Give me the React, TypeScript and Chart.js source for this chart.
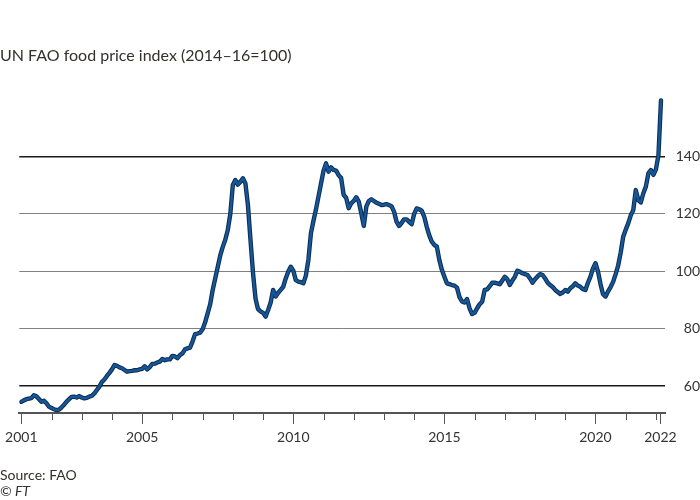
import React, { useEffect, useRef } from "react";
import { Chart, registerables } from "chart.js";

Chart.register(...registerables);

const TITLE = "UN FAO food price index (2014–16=100)";
const SOURCE = "Source: FAO";
const COPYRIGHT = "© FT";

// Monthly index values, Jan..Dec of each year (2014-16 = 100)
const startYear = 2001;
const y2001 = [54.5, 55.0, 55.4, 55.6, 55.8, 56.8, 56.4, 55.5, 54.5, 54.9, 54.0, 52.8];
const y2002 = [52.3, 51.9, 51.6, 51.8, 52.6, 53.5, 54.6, 55.4, 56.2, 56.3, 56.0, 56.5];
const y2003 = [56.0, 55.7, 55.9, 56.3, 56.6, 57.4, 58.6, 59.8, 61.4, 62.3, 63.5, 64.6];
const y2004 = [65.8, 67.3, 67.0, 66.5, 66.2, 65.6, 65.0, 65.2, 65.3, 65.5, 65.5, 65.8];
const y2005 = [66.0, 66.9, 65.8, 66.6, 67.7, 67.8, 68.2, 68.5, 69.4, 69.0, 69.3, 69.3];
const y2006 = [70.5, 70.3, 69.7, 70.8, 71.4, 72.8, 73.1, 73.4, 75.5, 78.1, 78.3, 78.6];
const y2007 = [79.8, 82.2, 85.3, 88.5, 93.5, 97.5, 101.5, 105.5, 108.5, 111.0, 114.4, 120.0];
const y2008 = [130.1, 131.8, 130.2, 131.2, 132.4, 130.6, 123.0, 111.0, 99.5, 90.5, 86.8, 86.0];
const y2009 = [85.5, 84.2, 86.5, 89.0, 93.5, 91.2, 92.5, 93.5, 94.6, 97.5, 99.8, 101.6];
const y2010 = [100.2, 96.9, 96.4, 96.2, 95.8, 98.5, 104.0, 113.2, 117.5, 121.5, 126.0, 130.5];
const y2011 = [135.0, 137.6, 134.7, 136.2, 135.3, 135.1, 133.5, 132.5, 126.6, 125.6, 122.0, 123.7];
const y2012 = [124.5, 125.8, 124.3, 120.2, 115.8, 122.5, 124.5, 125.1, 124.5, 123.9, 123.5, 123.1];
const y2013 = [123.2, 123.4, 123.1, 122.7, 120.8, 117.3, 115.8, 116.8, 118.1, 118.1, 117.2, 116.4];
const y2014 = [120.0, 121.9, 121.6, 121.1, 119.0, 115.5, 112.5, 110.3, 109.2, 108.6, 103.9, 100.5];
const y2015 = [98.1, 95.8, 95.5, 95.2, 95.0, 94.3, 91.0, 89.5, 89.1, 90.3, 87.1, 85.1];
const y2016 = [85.5, 87.1, 88.5, 89.4, 93.5, 93.7, 94.8, 96.0, 96.0, 95.8, 95.5, 96.8];
const y2017 = [98.1, 97.2, 95.2, 96.8, 98.1, 100.2, 99.8, 99.3, 99.0, 98.7, 97.5, 96.0];
const y2018 = [97.2, 98.2, 99.0, 98.7, 97.5, 96.0, 95.2, 94.5, 93.5, 92.8, 92.1, 92.6];
const y2019 = [93.5, 92.9, 94.1, 94.8, 95.8, 95.0, 94.6, 93.8, 93.5, 96.0, 98.1, 101.0];
const y2020 = [102.8, 99.9, 95.5, 92.0, 91.2, 93.0, 94.5, 96.3, 99.0, 102.0, 106.5, 112.0];
const y2021 = [114.5, 116.7, 119.5, 121.3, 128.3, 124.8, 124.0, 127.2, 129.5, 134.1, 135.3, 133.6];
const y2022 = [135.5, 140.5, 159.5];

const yearlySeries = [
  y2001, y2002, y2003, y2004, y2005, y2006, y2007, y2008, y2009, y2010, y2011,
  y2012, y2013, y2014, y2015, y2016, y2017, y2018, y2019, y2020, y2021, y2022,
];

const yTicks = [60, 80, 100, 120, 140];
const darkGridValues = [60, 140];
const xLabelTicks = [2001, 2005, 2010, 2015, 2020, 2022.15];
const xLabelTexts = ["2001", "2005", "2010", "2015", "2020", "2022"];
const minorTickYears = [
  2002, 2003, 2004, 2006, 2007, 2008, 2009, 2011, 2012, 2013, 2014,
  2016, 2017, 2018, 2019, 2021, 2022,
];

const FONT = "Lato, 'Open Sans', sans-serif";

const minorTicksPlugin = {
  id: "minorTicks",
  afterDraw(chart: any) {
    const { ctx, chartArea, scales } = chart;
    const xs = scales.x;
    ctx.save();
    ctx.strokeStyle = "#555";
    ctx.lineWidth = 1;
    for (const yr of minorTickYears) {
      const px = Math.round(xs.getPixelForValue(yr)) + 0.5;
      ctx.beginPath();
      ctx.moveTo(px, chartArea.bottom);
      ctx.lineTo(px, chartArea.bottom + 7);
      ctx.stroke();
    }
    ctx.restore();
  },
};

export default function App() {
  const canvasRef = useRef<HTMLCanvasElement | null>(null);

  useEffect(() => {
    const canvas = canvasRef.current;
    if (!canvas) return;
    const points = yearlySeries.flatMap((vals, i) =>
      vals.map((v, m) => ({ x: startYear + i + m / 12, y: v }))
    );
    const chart = new Chart(canvas, {
      type: "line",
      data: {
        datasets: [
          {
            data: points,
            borderColor: "#165799",
            borderWidth: 2.4,
            pointRadius: 0,
            tension: 0,
            order: 0,
            borderJoinStyle: "round",
            borderCapStyle: "round",
          },
          {
            data: points,
            borderColor: "#0c2c50",
            borderWidth: 4.4,
            pointRadius: 0,
            tension: 0,
            order: 1,
            borderJoinStyle: "round",
            borderCapStyle: "round",
          },
        ],
      },
      options: {
        responsive: false,
        animation: false,
        devicePixelRatio: 1,
        parsing: false as any,
        normalized: true,
        layout: { padding: { left: 16, top: 80, right: 0, bottom: 0 } },
        plugins: {
          legend: { display: false },
          tooltip: { enabled: false },
          title: { display: false },
        },
        scales: {
          x: {
            type: "linear",
            min: 2000.934,
            max: 2022.3,
            afterBuildTicks: (s: any) => {
              s.ticks = xLabelTicks.map((v) => ({ value: v }));
            },
            afterFit: (s: any) => {
              s.height = 87;
            },
            ticks: {
              autoSkip: false,
              maxRotation: 0,
              minRotation: 0,
              padding: 5,
              color: "#333",
              font: { family: FONT, size: 14 },
              callback: (v: any) => {
                const i = xLabelTicks.indexOf(v);
                return i >= 0 ? xLabelTexts[i] : "";
              },
            },
            grid: {
              drawOnChartArea: false,
              drawTicks: true,
              tickLength: 11,
              color: "#555",
              lineWidth: 1,
            },
            border: { display: true, color: "#555", width: 2 },
          },
          y: {
            position: "right",
            min: 50.6,
            max: 166.66,
            afterBuildTicks: (s: any) => {
              s.ticks = yTicks.map((v) => ({ value: v }));
            },
            afterFit: (s: any) => {
              s.width = 35;
            },
            ticks: {
              padding: 6,
              crossAlign: "far",
              color: "#333",
              font: { family: FONT, size: 14 },
            },
            grid: {
              drawTicks: false,
              color: (ctx: any) =>
                darkGridValues.includes(ctx.tick?.value) ? "#1a1a1a" : "#808080",
              lineWidth: (ctx: any) =>
                darkGridValues.includes(ctx.tick?.value) ? 1.5 : 1,
            },
            border: { display: false },
          },
        },
      },
      plugins: [minorTicksPlugin],
    });
    return () => chart.destroy();
  }, []);

  const textBase: React.CSSProperties = {
    position: "absolute",
    left: 0,
    margin: 0,
    whiteSpace: "nowrap",
    fontFamily: FONT,
    color: "#33302e",
  };

  return (
    <div
      style={{
        position: "fixed",
        left: 0,
        top: 0,
        width: 700,
        height: 500,
        background: "#fff",
        overflow: "hidden",
      }}
    >
      <canvas
        ref={canvasRef}
        width={700}
        height={500}
        style={{ position: "absolute", left: 0, top: 0, width: 700, height: 500 }}
      />
      <div style={{ ...textBase, top: 47, fontSize: 16, lineHeight: "16px" }}>{TITLE}</div>
      <div style={{ ...textBase, top: 467.5, fontSize: 14, lineHeight: "14px" }}>{SOURCE}</div>
      <div
        style={{ ...textBase, top: 484, fontSize: 14, lineHeight: "14px", fontStyle: "italic" }}
      >
        {COPYRIGHT}
      </div>
    </div>
  );
}
